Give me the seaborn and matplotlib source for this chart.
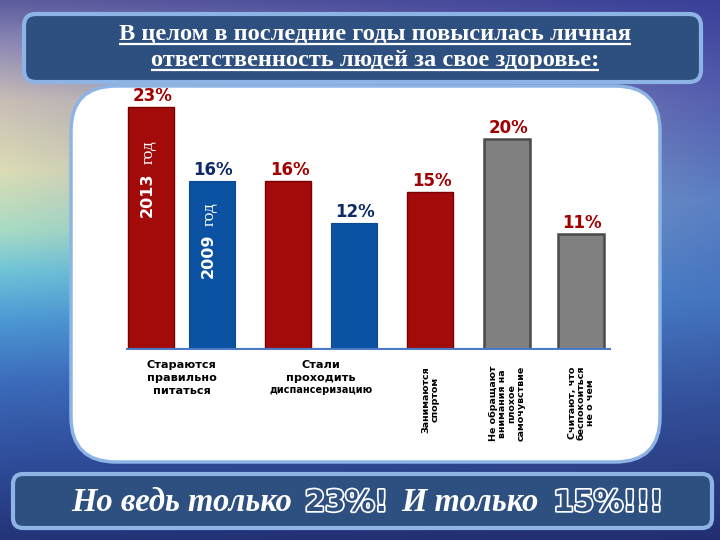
import numpy as np
import pandas as pd
import matplotlib
matplotlib.use("Agg")
import matplotlib.pyplot as plt
import matplotlib.patheffects as pe
from matplotlib.patches import FancyBboxPatch
import matplotlib.colors as mcolors
import seaborn as sns

sns.set_theme(style="white")
plt.rcParams['font.family'] = ['DejaVu Sans']

# ---------------- data ----------------
values = [23, 16, 16, 12, 15, 20, 11]
series = ["2013 год", "2009 год", "2013 год", "2009 год", "2013 год", "прочее", "прочее"]
value_labels = ["23%", "16%", "16%", "12%", "15%", "20%", "11%"]
group_labels = ["Стараются\nправильно\nпитаться",
                "Стали\nпроходить"]
group_sub = ["", "диспансеризацию"]
single_labels = ["Занимаются\nспортом",
                 "Не обращают\nвнимания на\nплохое\nсамочувствие",
                 "Считают, что\nбеспокоиться\nне о чем"]
title_lines = ["В целом в последние годы повысилась личная",
               "ответственность людей за свое здоровье:"]
footer_parts = ["Но ведь только", "23%!", "И только", "15%!!!"]

# ---------------- layout ----------------
pos = [0.0, 1.0, 2.25, 3.32, 4.58, 5.84, 7.05]
palette = {"2013 год": "#a30a0a", "2009 год": "#0b52a3", "прочее": "#808080"}
label_col = {"2013 год": "#a00000", "2009 год": "#0e2a66", "прочее": "#a00000"}

df = pd.DataFrame({"pos": pos, "value": values, "series": series})

fig = plt.figure(figsize=(7.2, 5.4), dpi=100)

# background
bg = fig.add_axes([0, 0, 1, 1])
bg.set_xlim(0, 720)
bg.set_ylim(540, 0)
bg.axis('off')

def grad(stops_y, cols, H):
    rgb = np.array([mcolors.to_rgb(c) for c in cols])
    y = np.arange(H)
    return np.stack([np.interp(y, stops_y, rgb[:, k]) for k in range(3)], axis=1)

H, W = 540, 720
left = grad([0, 40, 100, 170, 230, 270, 320, 380, 450, 540],
            ["#5c5c9e", "#8a86b4", "#c8beb6", "#dcdcb4", "#a8dcc4", "#70c4d8",
             "#4c98d4", "#3c6cbc", "#30509e", "#243478"], H)
right = grad([0, 100, 200, 300, 400, 540],
             ["#3a3f98", "#5660b0", "#5c80c4", "#4474c0", "#34509a", "#222e70"], H)
w = np.linspace(0, 1, W)[None, :, None]
img = left[:, None, :] * (1 - w) + right[:, None, :] * w
bg.imshow(img, extent=(0, 720, 540, 0), aspect='auto', zorder=0)

border = "#8eb4e6"
bg.add_patch(FancyBboxPatch((24, 14), 677, 68, boxstyle="round,pad=0,rounding_size=12",
                            fc="#2d5080", ec=border, lw=3, zorder=1))
bg.add_patch(FancyBboxPatch((71, 86), 589, 376, boxstyle="round,pad=0,rounding_size=45",
                            fc="white", ec=border, lw=2.5, zorder=1))
bg.add_patch(FancyBboxPatch((13, 474), 699, 54, boxstyle="round,pad=0,rounding_size=10",
                            fc="#2d5080", ec=border, lw=3, zorder=1))

# chart axes
ax = fig.add_axes([126 / 720, 1 - 350 / 540, 485 / 720, 265 / 540])
ax.patch.set_alpha(0)
sns.barplot(data=df, x="pos", y="value", hue="series", palette=palette,
            native_scale=True, width=0.754, dodge=False, legend=False,
            saturation=1, ax=ax)
ax.set_xlim(-0.41, 7.54)
ax.set_ylim(0, 25.1)
ax.axis('off')

edge_map = {"#a30a0a": ("#7a0000", 1.0), "#0b52a3": ("#0a4a90", 0.8), "#808080": ("#4a4a4a", 1.8)}
for p in ax.patches:
    hx = mcolors.to_hex(p.get_facecolor())
    if hx in edge_map:
        p.set_edgecolor(edge_map[hx][0])
        p.set_linewidth(edge_map[hx][1])

ax.axhline(0, color="#4a7bc4", lw=3, zorder=5, xmin=0, xmax=1)

for p, v, s, lab in zip(pos, values, series, value_labels):
    ax.annotate(lab, (p, v), xytext=(1, 1.5), textcoords='offset points',
                ha='center', va='bottom', fontsize=12, fontweight='bold',
                color=label_col[s], annotation_clip=False)

# year labels inside bars
for p, s, ytxt, ygod in [(pos[0], series[0], 14.7, 18.75), (pos[1], series[1], 8.9, 12.9)]:
    ax.text(p - 0.06, ytxt, s.split()[0], rotation=90, ha='center', va='center',
            color='white', fontsize=11.5, fontweight='bold')
    ax.text(p - 0.04, ygod, s.split()[1], rotation=90, ha='center', va='center',
            color='white', fontsize=12.5, family='Liberation Serif')

# category labels
g_centers = [(pos[0] + pos[1]) / 2, (pos[2] + pos[3]) / 2]
for gx, lab, sub in zip(g_centers, group_labels, group_sub):
    ax.text(gx, -0.95, lab, ha='center', va='top', fontsize=8.1, fontweight='bold',
            color='black', linespacing=1.35, clip_on=False)
    if sub:
        ax.text(gx, -3.3, sub, ha='center', va='top', fontsize=7, fontweight='bold',
                color='black', clip_on=False)
for p, lab in zip(pos[4:], single_labels):
    ax.text(p, -1.5, lab, rotation=90, ha='center', va='top', multialignment='center',
            fontsize=6.8, fontweight='bold', color='black', linespacing=1.0, clip_on=False)

# title
renderer = fig.canvas.get_renderer()
for line, yb in zip(title_lines, [40, 66]):
    t = bg.text(375, yb, line, ha='center', va='baseline', family='Liberation Serif',
                weight='bold', fontsize=17.6, color='white', zorder=3)
    bb = t.get_window_extent(renderer)
    bg.plot([bb.x0, bb.x1], [yb + 3.5, yb + 3.5], color='white', lw=1.6, zorder=3,
            solid_capstyle='butt')

# footer
serif_kw = dict(family='Liberation Serif', style='italic', weight='bold',
                fontsize=23.5, color='white')
out_kw = dict(family='DejaVu Sans', weight='bold', fontsize=21, color='#2d5080',
              path_effects=[pe.withStroke(linewidth=2.5, foreground='white')])
kws = [serif_kw, out_kw, serif_kw, out_kw]
gaps = [13, 13, 15, 0]
texts = []
x = 0
for part, kw, gap in zip(footer_parts, kws, gaps):
    t = bg.text(x, 511, part, ha='left', va='baseline', zorder=3, **kw)
    bb = t.get_window_extent(renderer)
    texts.append(t)
    x += bb.width + gap
total = x
start = 367 - total / 2
for t in texts:
    t.set_x(t.get_position()[0] + start)

fig.savefig("out.png", dpi=100)
